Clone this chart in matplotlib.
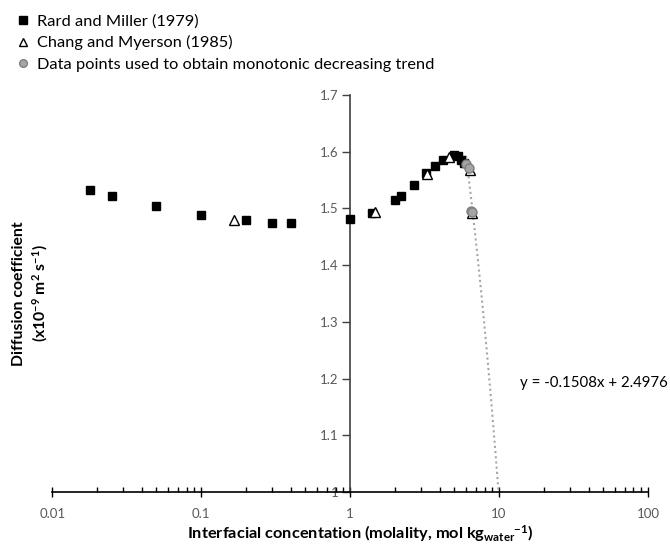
import numpy as np
import matplotlib
matplotlib.use("Agg")
import matplotlib.pyplot as plt

plt.rcParams["font.family"] = ["Lato", "DejaVu Sans"]
plt.rcParams["mathtext.fontset"] = "custom"
plt.rcParams["mathtext.rm"] = "Lato:bold"
plt.rcParams["mathtext.bf"] = "Lato:bold"
plt.rcParams["mathtext.default"] = "rm"

# Rard and Miller (1979)
rm_x = [0.018, 0.025, 0.05, 0.1, 0.2, 0.3, 0.4, 1.0, 1.4, 2.0, 2.2, 2.7,
        3.25, 3.7, 4.2, 5.0, 5.3, 5.6, 5.85]
rm_y = [1.532, 1.522, 1.505, 1.488, 1.479, 1.474, 1.474, 1.482, 1.492, 1.514,
        1.521, 1.541, 1.562, 1.574, 1.586, 1.594, 1.593, 1.585, 1.580]

# Chang and Myerson (1985)
cm_x = [0.166, 1.47, 3.3, 4.6, 6.35, 6.55]
cm_y = [1.480, 1.493, 1.560, 1.591, 1.568, 1.491]

# points used for the decreasing fit
mono_x = [6.0, 6.3, 6.5, 6.55]
mono_y = [1.578, 1.571, 1.496, 1.493]

fit_slope, fit_icpt = -0.1508, 2.4976

fig = plt.figure(figsize=(6.7, 5.45), dpi=100)
ax = fig.add_axes([0.078, 0.097, 0.889, 0.729])

ax.plot(rm_x, rm_y, "s", color="black", ms=6, label="Rard and Miller (1979)", zorder=3)
ax.plot(cm_x, cm_y, "^", mfc="white", mec="black", mew=1.0, ms=7,
        label="Chang and Myerson (1985)", zorder=4)
ax.plot(mono_x, mono_y, "o", mfc="#a5a5a5", mec="#7f7f7f", mew=1.0, ms=6.5,
        label="Data points used to obtain monotonic decreasing trend", zorder=5)

# linear trendline, drawn down to the bottom of the axis
fx = np.linspace(6.0, (1.0 - fit_icpt) / fit_slope, 50)
ax.plot(fx, fit_slope * fx + fit_icpt, ls=(0, (1, 1.5)), color="#a6a6a6", lw=1.5, zorder=2)
fig.text(0.997, 1 - 383 / 545, "y = -0.1508x + 2.4976", fontsize=10.8,
         ha="right", va="center")

ax.set_xscale("log")
ax.set_xlim(0.01, 100)
ax.set_ylim(1.0, 1.7)
ax.set_xticks([0.01, 0.1, 1, 10, 100])
ax.set_xticklabels(["0.01", "0.1", "1", "10", "100"])
ax.set_yticks(np.arange(1.0, 1.71, 0.1))
ax.set_yticklabels(["1", "1.1", "1.2", "1.3", "1.4", "1.5", "1.6", "1.7"])

ax.spines["top"].set_visible(False)
ax.spines["right"].set_visible(False)
ax.spines["left"].set_position(("data", 1))
ax.spines["left"].set_color("#404040")
ax.spines["bottom"].set_color("black")
ax.spines["left"].set_linewidth(1.2)
ax.spines["bottom"].set_linewidth(1.2)

ax.tick_params(axis="x", which="major", direction="inout", length=7, width=1.0,
               labelsize=9.5, labelcolor="#595959", pad=8)
ax.tick_params(axis="x", which="minor", direction="in", length=3.5, width=1.0)
ax.tick_params(axis="y", which="major", direction="out", length=5.5, width=1.0,
               color="#404040", labelsize=9.5, labelcolor="#595959", pad=3)

ax.set_xlabel("Interfacial concentation (molality, mol kg$_{water}$$^{-1}$)",
              fontsize=11.8, fontweight="bold")
ax.xaxis.set_label_coords(0.517, -0.077)
fig.text(0.046, 0.462, "Diffusion coefficient\n(x10$^{-9}$ m$^{2}$ s$^{-1}$)",
         rotation=90, ha="center", va="center", fontsize=11.3,
         fontweight="bold", linespacing=1.25)

fig.legend(loc="upper left", bbox_to_anchor=(0.004, 1.0), frameon=False,
           fontsize=11.8, handlelength=0.8, handletextpad=0.45, labelspacing=0.42,
           borderaxespad=0.45, markerscale=0.85)

fig.savefig("out.png", dpi=100)
